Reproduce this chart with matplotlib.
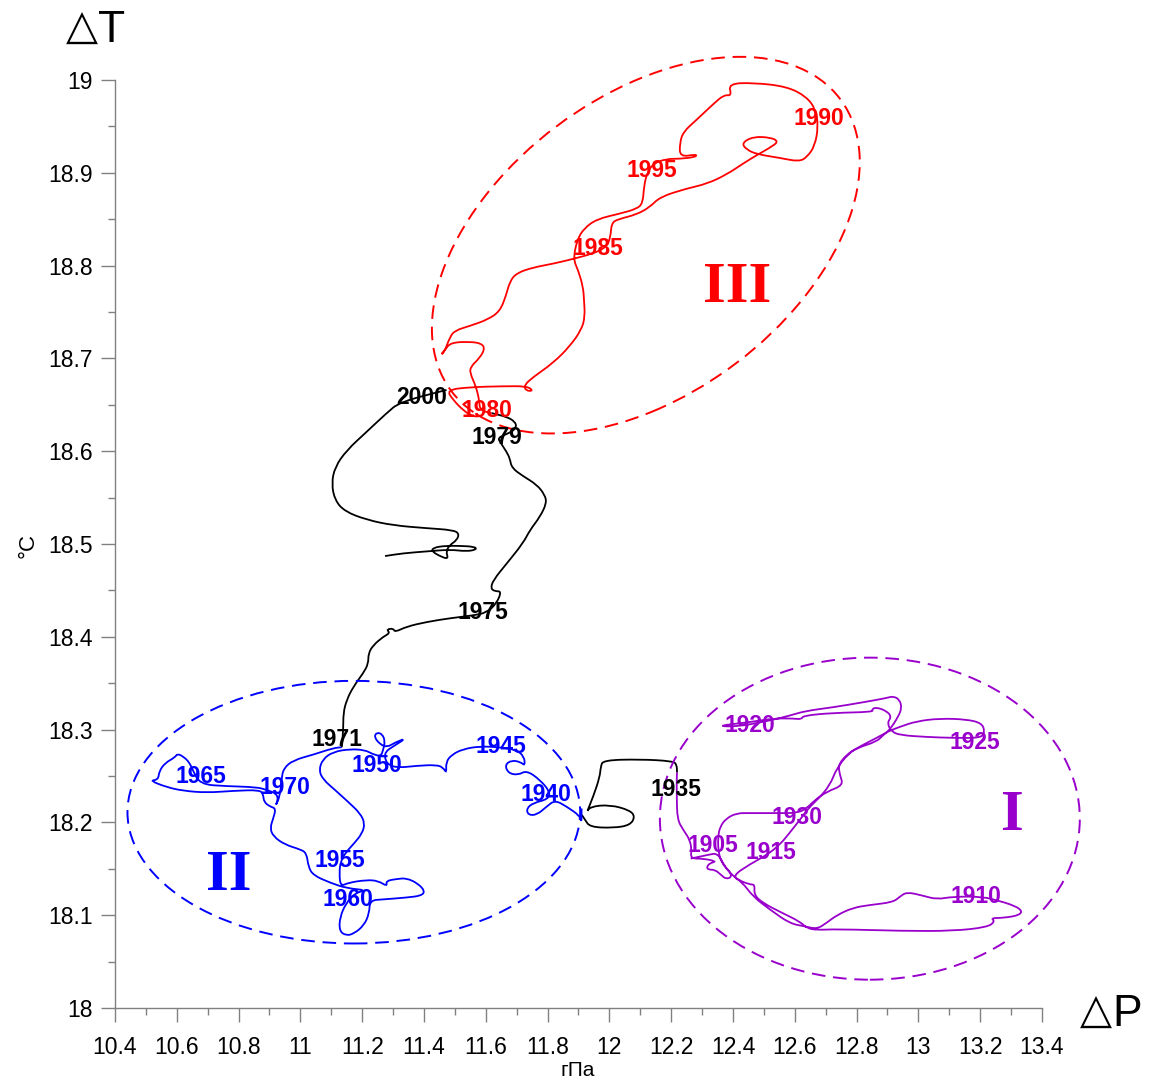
import matplotlib
matplotlib.use("Agg")
import matplotlib.pyplot as plt
import numpy as np
from matplotlib.patches import Ellipse, PathPatch
from matplotlib.path import Path
from matplotlib.ticker import MultipleLocator

plt.rcParams["font.family"] = ["Liberation Sans", "DejaVu Sans"]

# --- trajectory segments (pressure hPa, temperature C) ---
purple_x = [12.263, 12.319, 12.351, 12.374, 12.393, 12.416, 12.455, 12.471, 12.468, 12.497,
            12.562, 12.617, 12.639, 12.672, 12.736, 12.950, 13.112, 13.222, 13.248, 13.235,
            13.274, 13.329, 13.335, 13.296, 13.264, 13.209, 13.112, 13.060, 13.015, 12.963,
            12.940, 12.918, 12.843, 12.788, 12.736, 12.704, 12.672, 12.633, 12.584, 12.520,
            12.465, 12.429, 12.397, 12.455, 12.510, 12.552, 12.584, 12.617, 12.649, 12.675,
            12.714, 12.735, 12.773, 12.811, 12.865, 12.902, 12.940, 12.994, 13.070, 13.156,
            13.205, 13.215, 13.205, 13.113, 13.027, 12.940, 12.913, 12.899, 12.913, 12.897,
            12.865, 12.849, 12.854, 12.724, 12.627, 12.622, 12.595, 12.530, 12.455, 12.347,
            12.412, 12.509, 12.584, 12.633, 12.724, 12.832, 12.897, 12.919, 12.940, 12.946,
            12.935, 12.908, 12.886, 12.865, 12.800, 12.768, 12.741, 12.746, 12.757, 12.703,
            12.665, 12.638, 12.607, 12.541, 12.455, 12.412, 12.377, 12.358, 12.352, 12.352,
            12.363, 12.390, 12.396, 12.377, 12.363, 12.342, 12.320, 12.315, 12.325, 12.347,
            12.304, 12.263, 12.266, 12.261, 12.239, 12.220, 12.218, 12.218, 12.219]
purple_y = [18.161, 18.165, 18.167, 18.152, 18.145, 18.138, 18.133, 18.133, 18.122, 18.113,
            18.102, 18.093, 18.086, 18.084, 18.085, 18.083, 18.083, 18.087, 18.093, 18.097,
            18.097, 18.100, 18.106, 18.112, 18.115, 18.120, 18.120, 18.117, 18.121, 18.125,
            18.120, 18.114, 18.111, 18.108, 18.100, 18.092, 18.085, 18.088, 18.091, 18.106,
            18.120, 18.136, 18.142, 18.155, 18.165, 18.176, 18.189, 18.203, 18.217, 18.225,
            18.240, 18.258, 18.274, 18.282, 18.291, 18.298, 18.303, 18.309, 18.312, 18.311,
            18.307, 18.298, 18.291, 18.291, 18.292, 18.294, 18.298, 18.307, 18.314, 18.320,
            18.324, 18.322, 18.319, 18.318, 18.315, 18.311, 18.312, 18.312, 18.308, 18.304,
            18.303, 18.309, 18.315, 18.320, 18.324, 18.330, 18.334, 18.336, 18.332, 18.323,
            18.314, 18.300, 18.294, 18.287, 18.280, 18.273, 18.262, 18.251, 18.240, 18.233,
            18.224, 18.215, 18.210, 18.210, 18.210, 18.210, 18.204, 18.195, 18.185, 18.170,
            18.156, 18.147, 18.141, 18.139, 18.143, 18.149, 18.149, 18.152, 18.156, 18.158,
            18.161, 18.161, 18.170, 18.181, 18.192, 18.203, 18.228, 18.248, 18.254]

black_1935_x = [12.219, 12.218, 12.207, 12.099, 11.980, 11.972, 11.969, 11.948, 11.926, 11.937,
                12.002, 12.067, 12.083, 12.067, 12.013, 11.937, 11.921, 11.911]
black_1935_y = [18.254, 18.262, 18.266, 18.268, 18.267, 18.260, 18.249, 18.228, 18.210, 18.217,
                18.219, 18.213, 18.206, 18.197, 18.194, 18.195, 18.203, 18.208]

blue_x = [11.910, 11.910, 11.905, 11.862, 11.824, 11.797, 11.765, 11.737, 11.732, 11.754,
          11.802, 11.808, 11.775, 11.732, 11.705, 11.673, 11.662, 11.684, 11.713, 11.727,
          11.724, 11.700, 11.646, 11.581, 11.527, 11.490, 11.471, 11.473, 11.462, 11.441,
          11.376, 11.322, 11.290, 11.274, 11.274, 11.301, 11.344, 11.306, 11.281, 11.258,
          11.239, 11.247, 11.266, 11.274, 11.268, 11.260, 11.231, 11.209, 11.160, 11.106,
          11.072, 11.060, 11.074, 11.112, 11.155, 11.193, 11.209, 11.200, 11.173, 11.148,
          11.130, 11.126, 11.130, 11.155, 11.215, 11.252, 11.281, 11.277, 11.312, 11.344,
          11.381, 11.403, 11.392, 11.344, 11.268, 11.225, 11.223, 11.206, 11.173, 11.148,
          11.126, 11.128, 11.148, 11.177, 11.215, 11.150, 11.096, 11.042, 11.026, 11.020,
          10.999, 10.950, 10.912, 10.902, 10.912, 10.921, 10.902, 10.882, 10.880, 10.869,
          10.783, 10.697, 10.621, 10.567, 10.513, 10.540, 10.543, 10.562, 10.594, 10.602,
          10.621, 10.640, 10.651, 10.675, 10.761, 10.859, 10.891, 10.923, 10.928, 10.918,
          10.934, 10.939, 10.945, 10.977, 11.042, 11.106, 11.134]
blue_y = [18.215, 18.199, 18.207, 18.217, 18.224, 18.217, 18.208, 18.208, 18.215, 18.221,
          18.225, 18.233, 18.246, 18.256, 18.251, 18.253, 18.262, 18.267, 18.265, 18.261,
          18.271, 18.278, 18.281, 18.282, 18.279, 18.273, 18.265, 18.253, 18.259, 18.262,
          18.261, 18.259, 18.261, 18.267, 18.276, 18.282, 18.291, 18.286, 18.281, 18.284,
          18.292, 18.297, 18.295, 18.287, 18.278, 18.271, 18.274, 18.278, 18.279, 18.276,
          18.268, 18.256, 18.246, 18.235, 18.222, 18.210, 18.199, 18.188, 18.177, 18.168,
          18.158, 18.145, 18.131, 18.135, 18.138, 18.137, 18.131, 18.137, 18.139, 18.140,
          18.134, 18.126, 18.121, 18.119, 18.117, 18.116, 18.102, 18.089, 18.080, 18.078,
          18.083, 18.098, 18.113, 18.124, 18.127, 18.129, 18.135, 18.143, 18.152, 18.167,
          18.171, 18.176, 18.185, 18.194, 18.204, 18.215, 18.217, 18.222, 18.230, 18.235,
          18.234, 18.232, 18.234, 18.238, 18.245, 18.246, 18.255, 18.264, 18.270, 18.274,
          18.271, 18.265, 18.257, 18.241, 18.239, 18.238, 18.235, 18.231, 18.224, 18.217,
          18.228, 18.246, 18.258, 18.267, 18.273, 18.280, 18.281]

black_1971_x = [11.134, 11.139, 11.139, 11.150, 11.171, 11.204, 11.220, 11.220, 11.236, 11.268,
                11.290, 11.279, 11.301, 11.306, 11.344, 11.409, 11.484, 11.559, 11.603, 11.635,
                11.651, 11.630, 11.616, 11.624, 11.668, 11.721, 11.743, 11.775, 11.797, 11.791,
                11.765, 11.721, 11.684, 11.678, 11.668, 11.646, 11.640, 11.657, 11.684, 11.700,
                11.694, 11.668, 11.619]
black_1971_y = [18.281, 18.300, 18.318, 18.332, 18.346, 18.361, 18.371, 18.382, 18.391, 18.400,
                18.404, 18.408, 18.409, 18.405, 18.411, 18.416, 18.420, 18.423, 18.426, 18.436,
                18.449, 18.449, 18.452, 18.461, 18.479, 18.501, 18.515, 18.529, 18.544, 18.553,
                18.564, 18.573, 18.582, 18.592, 18.599, 18.610, 18.614, 18.617, 18.621, 18.626,
                18.632, 18.637, 18.641]

red_x = [11.619, 11.581, 11.579, 11.568, 11.549, 11.551, 11.579, 11.597, 11.587, 11.549,
         11.486, 11.468, 11.454, 11.465, 11.484, 11.500, 11.549, 11.608, 11.646, 11.665,
         11.678, 11.700, 11.754, 11.818, 11.881, 11.948, 11.991, 12.004, 12.007, 12.029,
         12.088, 12.131, 12.164, 12.250, 12.315, 12.379, 12.433, 12.477, 12.530, 12.546,
         12.522, 12.466, 12.428, 12.444, 12.477, 12.552, 12.614, 12.640, 12.665, 12.676,
         12.668, 12.638, 12.574, 12.466, 12.385, 12.396, 12.371, 12.336, 12.282, 12.239,
         12.228, 12.228, 12.282, 12.280, 12.228, 12.185, 12.142, 12.121, 12.112, 12.108,
         12.088, 12.034, 11.959, 11.918, 11.896, 11.883, 11.899, 11.915, 11.918, 11.921,
         11.910, 11.872, 11.818, 11.754, 11.724, 11.730, 11.754, 11.734, 11.657, 11.549,
         11.473, 11.495, 11.527, 11.559, 11.588]
red_y = [18.641, 18.644, 18.655, 18.670, 18.684, 18.691, 18.700, 18.710, 18.716, 18.718,
         18.717, 18.709, 18.704, 18.706, 18.723, 18.730, 18.735, 18.742, 18.751, 18.767,
         18.783, 18.792, 18.798, 18.802, 18.807, 18.813, 18.820, 18.831, 18.846, 18.850,
         18.855, 18.863, 18.874, 18.883, 18.888, 18.898, 18.910, 18.919, 18.929, 18.934,
         18.938, 18.939, 18.932, 18.925, 18.920, 18.916, 18.912, 18.917, 18.929, 18.950,
         18.968, 18.982, 18.993, 18.997, 18.996, 18.983, 18.984, 18.974, 18.957, 18.944,
         18.932, 18.917, 18.920, 18.917, 18.915, 18.915, 18.910, 18.899, 18.885, 18.867,
         18.861, 18.856, 18.850, 18.840, 18.828, 18.807, 18.795, 18.777, 18.763, 18.745,
         18.731, 18.713, 18.695, 18.680, 18.671, 18.665, 18.665, 18.670, 18.670, 18.669,
         18.666, 18.655, 18.644, 18.637, 18.638]

black_2000_x = [11.473, 11.322, 11.279, 11.215, 11.150, 11.112, 11.101, 11.112, 11.144, 11.215,
                11.301, 11.409, 11.495, 11.514, 11.506, 11.484, 11.471, 11.479, 11.457, 11.425,
                11.430, 11.468, 11.516, 11.565, 11.570, 11.538, 11.484, 11.409, 11.333, 11.274]
black_2000_y = [18.666, 18.653, 18.641, 18.621, 18.601, 18.583, 18.565, 18.547, 18.535, 18.526,
                18.520, 18.517, 18.515, 18.511, 18.504, 18.499, 18.492, 18.484, 18.486, 18.492,
                18.496, 18.498, 18.498, 18.497, 18.494, 18.492, 18.494, 18.492, 18.490, 18.487]

# year labels
year_labels = ["1990", "1995", "1985", "1980", "2000", "1979", "1975", "1971", "1945", "1950",
               "1965", "1970", "1940", "1955", "1960", "1935", "1920", "1925", "1930", "1905",
               "1915", "1910"]
year_x = [12.678, 12.138, 11.963, 11.604, 11.393, 11.636, 11.591, 11.118, 11.649, 11.248,
          10.678, 10.950, 11.795, 11.128, 11.154, 12.215, 12.455, 13.183, 12.607, 12.335,
          12.523, 13.186]
year_y = [18.959, 18.902, 18.818, 18.644, 18.658, 18.615, 18.426, 18.289, 18.282, 18.261,
          18.249, 18.238, 18.230, 18.159, 18.117, 18.235, 18.304, 18.286, 18.205, 18.175,
          18.168, 18.120]
year_colors = ["red", "red", "red", "red", "k", "k", "k", "k", "blue", "blue",
               "blue", "blue", "blue", "blue", "blue", "k", "purple", "purple", "purple", "purple",
               "purple", "purple"]

# regime ellipses: centre x, centre y, width, height, angle
regions = ["I", "II", "III"]
region_cx = [12.843, 11.173, 12.118]
region_cy = [18.204, 18.211, 18.822]
region_w = [1.359, 1.465, 1.397]
region_h = [0.347, 0.283, 0.361]
region_angle = [0.0, 0.0, 7.9]
region_label_x = [13.303, 10.769, 12.413]
region_label_y = [18.207, 18.142, 18.776]
region_colors = ["purple", "blue", "red"]

COLORS = {"red": "#ff0000", "blue": "#0000ff", "purple": "#9900cc", "k": "#000000"}


def smooth_path(xs, ys):
    # quadratic bezier through midpoints so the traced track renders smoothly
    p = np.column_stack([xs, ys])
    mids = (p[:-1] + p[1:]) / 2
    verts = [p[0], mids[0]]
    codes = [Path.MOVETO, Path.LINETO]
    for i in range(1, len(p) - 1):
        verts += [p[i], mids[i]]
        codes += [Path.CURVE3, Path.CURVE3]
    verts.append(p[-1])
    codes.append(Path.LINETO)
    return Path(verts, codes)


def main() -> None:
    fig = plt.figure(figsize=(11.53, 10.82), dpi=100)
    ax = fig.add_axes([0.0997, 0.0684, 0.804, 0.8577])

    tracks = [(purple_x, purple_y, "purple"), (black_1935_x, black_1935_y, "k"),
              (blue_x, blue_y, "blue"), (black_1971_x, black_1971_y, "k"),
              (red_x, red_y, "red"), (black_2000_x, black_2000_y, "k")]
    for xs, ys, c in tracks:
        ax.add_patch(PathPatch(smooth_path(xs, ys), fill=False, edgecolor=COLORS[c], lw=1.3))

    for i, name in enumerate(regions):
        col = COLORS[region_colors[i]]
        ax.add_patch(Ellipse((region_cx[i], region_cy[i]), region_w[i], region_h[i],
                             angle=region_angle[i], fill=False, edgecolor=col, lw=1.4,
                             linestyle=(0, (7, 4)), clip_on=False))
        ax.text(region_label_x[i], region_label_y[i], name, color=col, fontsize=42,
                fontweight="bold", family="Liberation Serif", ha="center", va="center")

    for t, x, y, c in zip(year_labels, year_x, year_y, year_colors):
        ax.text(x, y, t, color=COLORS[c], fontsize=16.5, fontweight="bold",
                ha="center", va="center", zorder=5)

    ax.set_xlim(10.4, 13.4)
    ax.set_ylim(18.0, 19.0)
    ax.xaxis.set_minor_locator(MultipleLocator(0.1))
    ax.yaxis.set_minor_locator(MultipleLocator(0.05))
    ax.set_xticks([10.4 + 0.2 * i for i in range(16)],
                  ["10.4", "10.6", "10.8", "11", "11.2", "11.4", "11.6", "11.8", "12",
                   "12.2", "12.4", "12.6", "12.8", "13", "13.2", "13.4"])
    ax.set_yticks([18.0 + 0.1 * i for i in range(11)],
                  ["18", "18.1", "18.2", "18.3", "18.4", "18.5", "18.6", "18.7", "18.8",
                   "18.9", "19"])
    for side in ("top", "right"):
        ax.spines[side].set_visible(False)
    for side in ("left", "bottom"):
        ax.spines[side].set_color("#808080")
        ax.spines[side].set_linewidth(1.0)
    ax.tick_params(which="major", length=10, width=1.0, color="#808080", labelsize=16.5, pad=6)
    ax.tick_params(which="minor", length=5, width=1.0, color="#808080")
    ax.tick_params(axis="x", which="major", pad=10)

    # corner axis names: triangle then letter
    fig.text(0.0707, 0.963, "△", fontsize=30, ha="center", va="baseline", family="DejaVu Sans")
    fig.text(0.0971, 0.961, "T", fontsize=32, ha="center", va="baseline")
    fig.text(0.9506, 0.0536, "△", fontsize=30, ha="center", va="baseline", family="DejaVu Sans")
    fig.text(0.978, 0.0518, "P", fontsize=32, ha="center", va="baseline")
    fig.text(0.024, 0.496, "°C", fontsize=16, rotation=90, ha="center", va="center")
    fig.text(0.501, 0.011, "гПа", fontsize=15, ha="center", va="center")

    fig.savefig("out.png", dpi=100)
    plt.close(fig)


if __name__ == "__main__":
    main()
